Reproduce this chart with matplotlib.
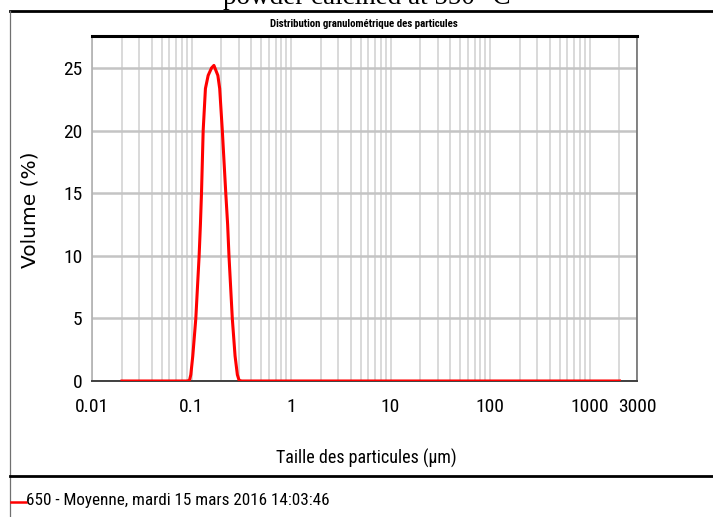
import matplotlib
matplotlib.use("Agg")
import matplotlib.pyplot as plt
from matplotlib.lines import Line2D
from matplotlib.ticker import LogLocator, NullFormatter, FixedLocator
from matplotlib import font_manager
from matplotlib.font_manager import FontProperties

# --- data (particle size in um, volume in %) ---
sizes_um = [0.02, 0.09, 0.0954, 0.0984, 0.103, 0.1105, 0.1193, 0.1229, 0.126,
            0.131, 0.138, 0.147, 0.159, 0.168, 0.184, 0.192, 0.204, 0.221,
            0.2307, 0.238, 0.257, 0.274, 0.289, 0.301, 0.32, 2000]
volume_pct = [0.0, 0.0, 0.05, 0.5, 2.0, 5.0, 10.0, 12.5, 15.0,
              20.0, 23.35, 24.4, 25.0, 25.2, 24.4, 23.35, 20.0, 15.0,
              12.5, 10.0, 5.0, 2.0, 0.5, 0.05, 0.0, 0.0]

x_ticks = [0.01, 0.1, 1, 10, 100, 1000, 3000]
x_tick_labels = ["0.01", "0.1", "1", "10", "100", "1000", "3000"]
y_ticks = [0, 5, 10, 15, 20, 25]

super_title = "powder calcined at 550 °C"
chart_title = "Distribution granulométrique des particules"
x_label = "Taille des particules (µm)"
y_label = "Volume (%)"
legend_text = "650 - Moyenne, mardi 15 mars 2016 14:03:46"


def find_narrow(bold=False):
    # look for a condensed / narrow sans face among installed fonts
    wanted = ["Liberation Sans Narrow", "Roboto Condensed", "DejaVu Sans Condensed",
              "Open Sans Condensed", "Noto Sans Condensed"]
    cond = ("condensed", "semi-condensed", "extra-condensed", "ultra-condensed")
    found = []
    for f in font_manager.fontManager.ttflist:
        st = f.stretch
        is_cond = ("Narrow" in f.name or "Condensed" in f.name
                   or "Narrow" in f.fname or "Condensed" in f.fname
                   or st in cond or (isinstance(st, int) and st < 500))
        if not is_cond or f.style != "normal":
            continue
        w = f.weight if isinstance(f.weight, int) else (700 if "bold" in str(f.weight) else 400)
        if bold and w < 600:
            continue
        if not bold and w != 400:
            continue
        rank = len(wanted)
        for i, n in enumerate(wanted):
            if n.split()[0] in f.name and ("Narrow" in n or "Condensed" in n):
                rank = i
                break
        found.append((rank, f.fname))
    if found:
        found.sort()
        return found[0][1]
    return None


narrow_file = find_narrow(False)
narrow_bold_file = find_narrow(True)


def nfont(size, bold=False):
    path = narrow_bold_file if bold else narrow_file
    if path:
        return FontProperties(fname=path, size=size)
    # no condensed face: plain sans, a bit smaller
    return FontProperties(family="Liberation Sans", size=size * 0.8,
                          weight="bold" if bold else "normal")


W, H = 713, 517
fig = plt.figure(figsize=(W / 100, H / 100), dpi=100)


def fx(px):
    return px / W


def fy(py):
    return 1 - py / H


# axes box: x 92..637, y 36..381 (pixels)
ax = fig.add_axes([fx(92), fy(381), fx(637) - fx(92), fy(36) - fy(381)])
ax.set_xscale("log")
ax.set_xlim(0.01, 3000)
ax.set_ylim(0, 27.55)

ax.plot(sizes_um, volume_pct, color="#ff0000", lw=2.2, zorder=3,
        solid_joinstyle="round")

ax.xaxis.set_major_locator(FixedLocator(x_ticks))
ax.set_xticklabels(x_tick_labels)
ax.xaxis.set_minor_locator(LogLocator(base=10, subs=range(2, 10), numticks=20))
ax.xaxis.set_minor_formatter(NullFormatter())
ax.set_yticks(y_ticks)

ax.grid(True, axis="x", which="both", color="#cfcfcf", lw=1.1, zorder=0)
ax.grid(True, axis="y", which="major", color="#c4c4c4", lw=1.8, zorder=0)

ax.tick_params(axis="both", which="both", length=0)
ax.tick_params(axis="x", pad=12)
ax.tick_params(axis="y", pad=7)
for lab in ax.get_xticklabels() + ax.get_yticklabels():
    lab.set_fontproperties(nfont(14))

ax.spines["top"].set_color("black")
ax.spines["top"].set_linewidth(2.2)
ax.spines["left"].set_color("#b0b0b0")
ax.spines["left"].set_linewidth(1.2)
ax.spines["right"].set_color("#707070")
ax.spines["right"].set_linewidth(1.2)
ax.spines["bottom"].set_color("#404040")
ax.spines["bottom"].set_linewidth(1.4)

fig.text(fx(366), fy(458), x_label, ha="center", va="center",
         fontproperties=nfont(13))
fig.text(fx(30), fy(210), y_label, rotation=90, ha="center", va="center",
         fontfamily="DejaVu Sans", fontsize=14.5)

# titles
fig.text(fx(367), fy(4), super_title, ha="center", va="baseline",
         fontfamily="Liberation Serif", fontsize=19.5)
fig.text(fx(364), fy(24), chart_title, ha="center", va="center",
         fontproperties=nfont(7.8, bold=True))

# outer frame lines
fig.add_artist(Line2D([fx(10), fx(713)], [fy(11), fy(11)], color="black", lw=2))
fig.add_artist(Line2D([fx(10), fx(10)], [fy(11), fy(517)], color="#707070", lw=0.9))
fig.add_artist(Line2D([fx(10), fx(713)], [fy(476), fy(476)], color="black", lw=2))

# legend entry
fig.add_artist(Line2D([fx(11), fx(26)], [fy(502), fy(502)], color="#ff0000", lw=1.8))
fig.text(fx(26), fy(501), legend_text, ha="left", va="center",
         fontproperties=nfont(12.3))

fig.savefig("out.png", dpi=100)
